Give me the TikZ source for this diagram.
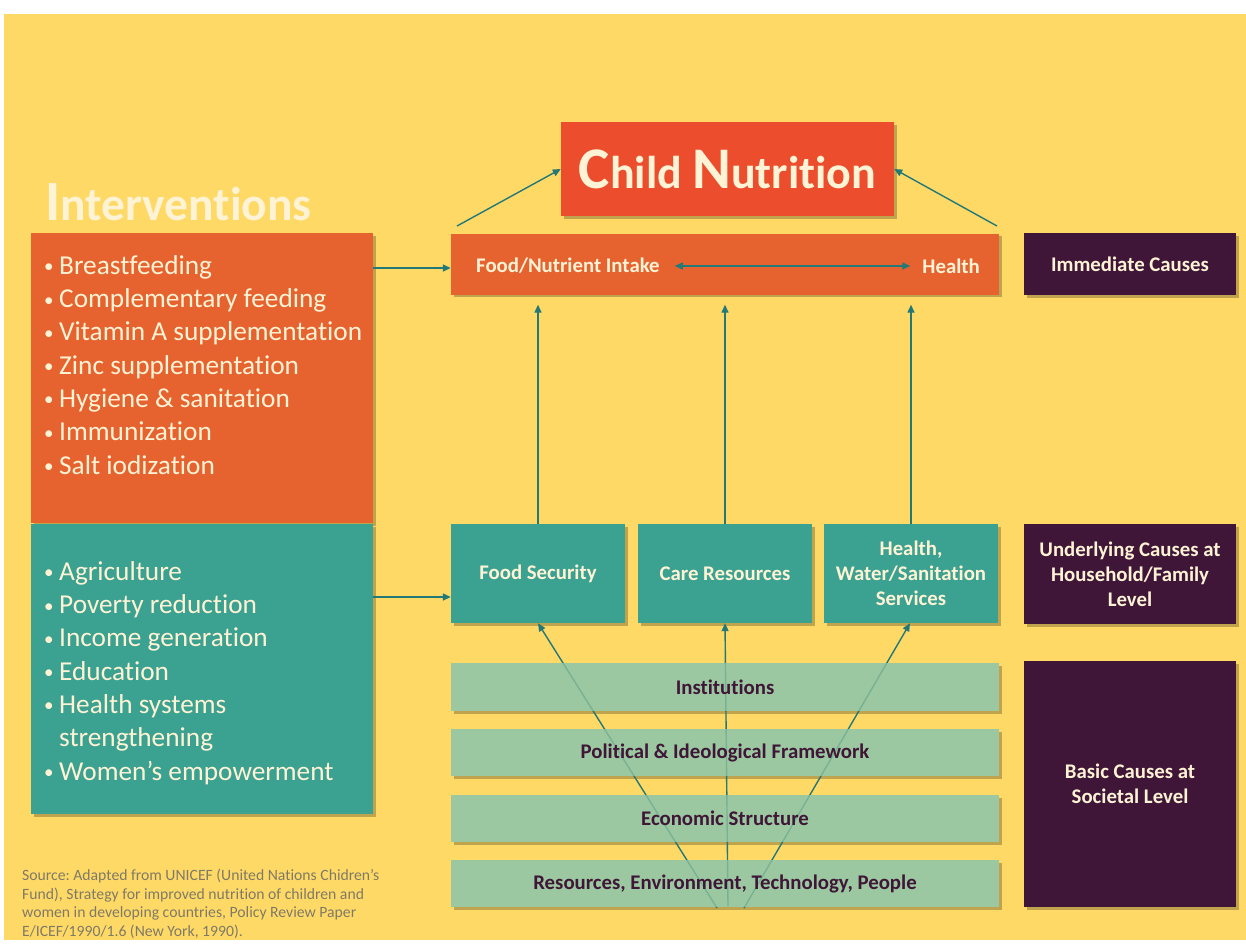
\documentclass[tikz,border=0pt]{standalone}
\usepackage{fontspec}
\setmainfont{Carlito}[Ligatures={NoCommon}]
\usetikzlibrary{shadows,arrows.meta}
\definecolor{bgyellow}{HTML}{FED966}
\definecolor{cnred}{HTML}{EB4D2D}
\definecolor{orangebox}{HTML}{E6632F}
\definecolor{tealbox}{HTML}{3BA190}
\definecolor{greenbar}{HTML}{9BC8A0}
\definecolor{darkpurple}{HTML}{3F1637}
\definecolor{cream}{HTML}{FFF3D6}
\definecolor{arrowteal}{HTML}{237878}
\definecolor{srcgray}{HTML}{7F7A66}
\newcommand{\fsz}[2]{\fontsize{#1}{#2}\selectfont}
\newcommand{\bul}{\makebox[15pt][l]{\raisebox{1.5pt}{\fsz{19}{19}\textbullet}}}
\frenchspacing
\begin{document}
\begin{tikzpicture}[x=1pt,y=-1pt,
  shad/.style={drop shadow={shadow xshift=2.5pt,shadow yshift=-2.5pt,opacity=0.35,fill=black!70!bgyellow}},
  boxbase/.style={shad,inner sep=0pt,align=center},
  redbox/.style={boxbase,fill=cnred,text=cream},
  orbox/.style={boxbase,fill=orangebox,text=cream},
  tlbox/.style={boxbase,fill=tealbox,text=cream,font=\bfseries\fsz{20.8}{25}},
  dpbox/.style={boxbase,fill=darkpurple,text=cream,font=\bfseries\fsz{20.8}{25}},
  grbar/.style={shad,inner sep=0pt,fill=greenbar,minimum width=548pt},
  grlabel/.style={inner sep=0pt,fill=greenbar,fill opacity=0.72,text opacity=1,text=darkpurple,minimum width=548pt,font=\bfseries\fsz{20.8}{24}},
  arr/.style={draw=arrowteal,line width=1.4pt,-{Triangle[length=8pt,width=7pt]}},
  darr/.style={draw=arrowteal,line width=1.4pt,{Triangle[length=8pt,width=7pt]}-{Triangle[length=8pt,width=7pt]}},
  listtext/.style={inner sep=0pt,anchor=west,text=cream,align=left,font=\fsz{27.3}{33.3}}
]
\useasboundingbox (0,0) rectangle (1246,943);
\fill[white] (0,0) rectangle (1246,943);
\fill[bgyellow] (4,14) rectangle (1246,940);

% Title box
\node[redbox,minimum width=333pt,minimum height=94pt] (cn) at (727.5,169) {\bfseries{\fsz{59}{59}C}{\fsz{46}{46}hild }{\fsz{59}{59}N}{\fsz{46}{46}utrition}};

% Interventions heading
\node[inner sep=0pt,anchor=base west,text=cream] (intv) at (45,220) {\bfseries{\fsz{57}{57}I}{\fsz{47.5}{47.5}nterventions}};

% Immediate strip
\node[orbox,minimum width=548pt,minimum height=61pt] (strip) at (725,264) {};
\node[inner sep=0pt,anchor=west,text=cream,font=\bfseries\fsz{20.8}{24}] (fni) at (476,266) {Food/Nutrient Intake};
\node[inner sep=0pt,anchor=east,text=cream,font=\bfseries\fsz{20.8}{24}] (hl) at (980,266) {Health};

% Left boxes
\node[orbox,minimum width=342pt,minimum height=290pt] (lor) at (202,378) {};
\node[boxbase,fill=tealbox,minimum width=342pt,minimum height=290pt] (ltl) at (202,669) {};
\node[listtext] (lorlist) at (44,367.5) {\begin{tabular}{@{}l@{}l@{}}
\bul & Breastfeeding\\
\bul & Complementary feeding\\
\bul & Vitamin A supplementation\\
\bul & Zinc supplementation\\
\bul & Hygiene \& sanitation\\
\bul & Immunization\\
\bul & Salt iodization
\end{tabular}};
\node[listtext] (ltllist) at (44,673.5) {\begin{tabular}{@{}l@{}l@{}}
\bul & Agriculture\\
\bul & Poverty reduction\\
\bul & Income generation\\
\bul & Education\\
\bul & Health systems\\
 & strengthening\\
\bul & Women’s empowerment
\end{tabular}};

% Underlying boxes
\node[tlbox,minimum width=174pt,minimum height=99pt] (fs) at (538,573.5) {Food Security};
\node[tlbox,minimum width=174pt,minimum height=99pt] (cr) at (725,573.5) {Care Resources};
\node[tlbox,minimum width=174pt,minimum height=99pt] (hw) at (911,573.5) {Health,\\Water/Sanitation\\Services};

% Right labels
\node[dpbox,minimum width=212pt,minimum height=62pt] (imm) at (1130,264) {Immediate Causes};
\node[dpbox,minimum width=212pt,minimum height=100pt] (und) at (1130,574) {Underlying Causes at\\Household/Family\\Level};
\node[dpbox,minimum width=212pt,minimum height=246pt] (bas) at (1130,784) {Basic Causes at\\Societal Level};

% Basic bars (opaque base with shadow)
\node[grbar,minimum height=48pt] (ins) at (725,687) {};
\node[grbar,minimum height=47pt] (pol) at (725,752.5) {};
\node[grbar,minimum height=47pt] (eco) at (725,818.5) {};
\node[grbar,minimum height=47pt] (res) at (725,883.5) {};

% converging lines
\coordinate (b1) at (717,908);
\coordinate (b2) at (728,906);
\coordinate (b3) at (744,908);
\draw[arr] (b1) -- (fs.south);
\draw[arr] (b2) -- (cr.south);
\draw[arr] (b3) -- ([xshift=-1pt]hw.south);

% translucent bar faces with labels
\node[grlabel,minimum height=48pt] (insl) at (ins) {Institutions};
\node[grlabel,minimum height=47pt] (poll) at (pol) {Political \& Ideological Framework};
\node[grlabel,minimum height=47pt] (ecol) at (eco) {Economic Structure};
\node[grlabel,minimum height=47pt] (resl) at (res) {Resources, Environment, Technology, People};

% arrows
\coordinate (sl) at (457,226);
\coordinate (sr) at (997,226);
\draw[arr] (sl) -- (cn.west);
\draw[arr] (sr) -- (cn.east);
\draw[darr] ([xshift=15pt]fni.east) -- ([xshift=-12pt]hl.west);
\draw[arr,shorten >=10pt] (fs.north) -- (fs.north |- strip.south);
\draw[arr,shorten >=10pt] (cr.north) -- (cr.north |- strip.south);
\draw[arr,shorten >=10pt] (hw.north) -- (hw.north |- strip.south);
\draw[arr] (lor.east |- 0,268) -- (strip.west |- 0,268);
\draw[arr] (ltl.east |- 0,597) -- (fs.west |- 0,597);

% Source
\node[inner sep=0pt,anchor=north west,align=left,text=srcgray,font=\fsz{15.7}{18.6}] (src) at (22,869) {Source: Adapted from UNICEF (United Nations Chidren’s\\Fund), Strategy for improved nutrition of children and\\women in developing countries, Policy Review Paper\\E/ICEF/1990/1.6 (New York, 1990).};
\end{tikzpicture}
\end{document}
